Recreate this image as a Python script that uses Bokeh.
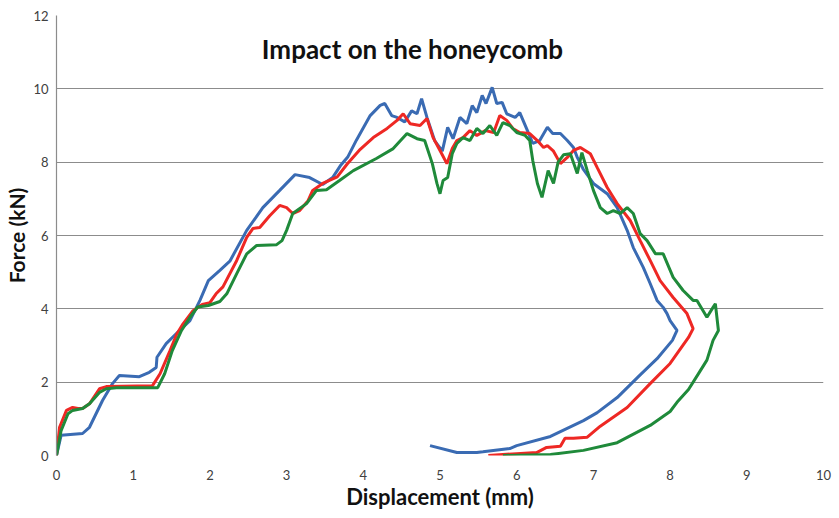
from bokeh.plotting import figure
from bokeh.models import Label, FixedTicker
from bokeh.embed import file_html
from bokeh.resources import INLINE

# ---- data ----
blue_x = [0, 0.06, 0.34, 0.43, 0.6, 0.73, 0.82, 1.08, 1.21, 1.3, 1.31, 1.43, 1.56, 1.74, 1.87, 1.98,
          2.13, 2.26, 2.48, 2.69, 2.91, 3.11, 3.3, 3.47, 3.6, 3.7, 3.8, 3.91, 4.09, 4.22, 4.28, 4.37,
          4.44, 4.54, 4.63, 4.7, 4.76, 4.83, 4.93, 5.03, 5.1, 5.17, 5.26, 5.35, 5.42, 5.48, 5.55, 5.6,
          5.68, 5.74, 5.81, 5.87, 5.98, 6.04, 6.14, 6.21, 6.3, 6.4, 6.47, 6.57, 6.66, 6.74, 6.79, 6.87,
          7.0, 7.18, 7.31, 7.44, 7.52, 7.65, 7.74, 7.83, 7.91, 7.96, 8.0, 8.09,
          8.03, 7.83, 7.61, 7.31, 7.05, 6.87, 6.44, 6.0, 5.91, 5.56, 5.48, 5.22, 4.87]
blue_y = [0, 0.55, 0.6, 0.77, 1.5, 1.96, 2.18, 2.15, 2.27, 2.4, 2.68, 3.05, 3.32, 3.68, 4.23, 4.77,
          5.05, 5.3, 6.14, 6.76, 7.23, 7.66, 7.58, 7.39, 7.58, 7.9, 8.15, 8.6, 9.27, 9.55, 9.6, 9.27,
          9.22, 9.1, 9.4, 9.32, 9.73, 9.22, 8.59, 8.3, 8.95, 8.64, 9.22, 9.05, 9.54, 9.35, 9.82, 9.6,
          10.04, 9.6, 9.63, 9.32, 9.22, 9.35, 8.86, 8.51, 8.59, 8.95, 8.78, 8.78, 8.59, 8.4, 8.13, 7.8,
          7.42, 7.14, 6.76, 6.14, 5.67, 5.13, 4.69, 4.23, 4.04, 3.87, 3.68, 3.41,
          3.14, 2.64, 2.2, 1.58, 1.17, 0.95, 0.52, 0.27, 0.19, 0.1, 0.08, 0.08, 0.27]

red_x = [0, 0.04, 0.13, 0.21, 0.28, 0.34, 0.43, 0.56, 0.65, 1.25, 1.35, 1.48, 1.57, 1.65, 1.78, 1.9,
         2.0, 2.08, 2.17, 2.35, 2.48, 2.56, 2.65, 2.78, 2.91, 3.0, 3.08, 3.17, 3.28, 3.34, 3.47, 3.66,
         3.79, 3.96, 4.13, 4.31, 4.44, 4.52, 4.61, 4.74, 4.83, 4.91, 5.0, 5.09, 5.16, 5.22, 5.3, 5.39,
         5.48, 5.59, 5.7, 5.78, 5.87, 5.95, 6.04, 6.17, 6.27, 6.35, 6.4, 6.48, 6.57, 6.66, 6.74, 6.83,
         6.96, 7.05, 7.18, 7.31, 7.48, 7.61, 7.74, 7.87, 8.04, 8.22, 8.3,
         8.24, 8.0, 7.74, 7.44, 7.09, 6.92, 6.74, 6.63, 6.57, 6.39, 6.26, 6.0, 5.63]
red_y = [0, 0.77, 1.23, 1.31, 1.28, 1.28, 1.41, 1.82, 1.88, 1.9, 2.23, 2.86, 3.32, 3.59, 3.95, 4.12,
         4.17, 4.41, 4.6, 5.32, 5.95, 6.19, 6.22, 6.54, 6.82, 6.76, 6.6, 6.68, 6.95, 7.23, 7.42, 7.6,
         7.95, 8.35, 8.67, 8.92, 9.14, 9.32, 9.05, 9.0, 9.19, 8.67, 8.32, 7.96, 8.37, 8.59, 8.67, 8.86,
         8.73, 8.86, 8.81, 9.27, 9.14, 8.92, 8.81, 8.78, 8.59, 8.4, 8.45, 8.3, 7.96, 8.13, 8.32, 8.4,
         8.23, 7.85, 7.31, 6.87, 6.41, 5.86, 5.32, 4.77, 4.31, 3.87, 3.46,
         3.22, 2.51, 1.96, 1.31, 0.8, 0.5, 0.47, 0.47, 0.25, 0.22, 0.08, 0.05, 0.0]

green_x = [0, 0.06, 0.15, 0.21, 0.34, 0.43, 0.56, 0.65, 0.78, 1.32, 1.41, 1.51, 1.63, 1.74, 1.84, 1.98,
           2.13, 2.22, 2.35, 2.48, 2.61, 2.87, 2.94, 3.0, 3.08, 3.26, 3.39, 3.52, 3.69, 3.87, 4.17, 4.39,
           4.57, 4.7, 4.8, 4.9, 4.96, 5.0, 5.04, 5.1, 5.16, 5.22, 5.3, 5.39, 5.48, 5.56, 5.65, 5.74,
           5.82, 5.91, 6.0, 6.11, 6.17, 6.21, 6.27, 6.33, 6.41, 6.48, 6.54, 6.61, 6.7, 6.79, 6.85, 6.92,
           7.0, 7.09, 7.18, 7.26, 7.35, 7.44, 7.52, 7.61, 7.7, 7.81, 7.91, 8.04, 8.17, 8.3, 8.35, 8.43,
           8.48, 8.56, 8.59, 8.63,
           8.56, 8.48, 8.36, 8.24, 8.09, 8.0, 7.74, 7.31, 6.87, 6.44, 5.82]
green_y = [0, 0.68, 1.14, 1.23, 1.28, 1.41, 1.72, 1.82, 1.85, 1.85, 2.23, 2.86, 3.41, 3.77, 4.05, 4.09,
           4.2, 4.41, 4.96, 5.5, 5.73, 5.75, 5.86, 6.14, 6.6, 6.87, 7.23, 7.25, 7.5, 7.77, 8.1, 8.37,
           8.78, 8.64, 8.59, 7.96, 7.42, 7.14, 7.5, 7.58, 8.23, 8.51, 8.67, 8.59, 8.92, 8.78, 9.0, 8.73,
           9.08, 9.0, 8.81, 8.73, 8.59, 8.04, 7.42, 7.04, 7.77, 7.42, 8.0, 8.2, 8.23, 7.69, 8.26, 7.77,
           7.23, 6.76, 6.6, 6.68, 6.6, 6.76, 6.6, 6.05, 5.86, 5.5, 5.5, 4.86, 4.5, 4.23, 4.23, 3.95,
           3.77, 4.04, 4.14, 3.41,
           3.14, 2.6, 2.2, 1.8, 1.45, 1.2, 0.82, 0.35, 0.14, 0.03, 0.0]

x_ticks = [0, 1, 2, 3, 4, 5, 6, 7, 8, 9, 10]
y_ticks = [0, 2, 4, 6, 8, 10, 12]

title_text = "Impact on the honeycomb"
x_label = "Displacement (mm)"
y_label = "Force (kN)"

FONT = "Lato"

p = figure(width=838, height=517, x_range=(0, 10), y_range=(0, 12),
           output_backend="svg", toolbar_location=None,
           min_border_left=56, min_border_right=15, min_border_top=15, min_border_bottom=62)
p.outline_line_color = None
p.background_fill_color = "white"

p.xgrid.grid_line_color = None
p.ygrid.grid_line_color = "#8c8c8c"
p.ygrid.grid_line_width = 1.2

p.xaxis.ticker = FixedTicker(ticks=x_ticks)
p.yaxis.ticker = FixedTicker(ticks=y_ticks)
for ax in (p.xaxis, p.yaxis):
    ax.major_tick_line_color = None
    ax.minor_tick_line_color = None
    ax.major_tick_out = 0
    ax.major_tick_in = 0
    ax.minor_tick_out = 0
    ax.major_label_text_font = FONT
    ax.major_label_text_font_size = "13px"
    ax.major_label_text_color = "#404040"
    ax.axis_label_text_font = FONT
    ax.axis_label_text_font_style = "bold"
    ax.axis_label_text_color = "#111111"
p.xaxis.axis_line_color = None
p.yaxis.axis_line_color = "#8c8c8c"
p.yaxis.axis_line_width = 1.2
p.xaxis.axis_label = x_label
p.yaxis.axis_label = y_label
p.xaxis.axis_label_text_font_size = "22px"
p.yaxis.axis_label_text_font_size = "21px"
p.xaxis.major_label_standoff = 14
p.yaxis.major_label_standoff = 8
p.xaxis.axis_label_standoff = 0
p.yaxis.axis_label_standoff = 1

p.line(blue_x, blue_y, line_color="#3A6BB3", line_width=3)
p.line(red_x, red_y, line_color="#EE2824", line_width=3)
p.line(green_x, green_y, line_color="#1F8A3A", line_width=3)

p.add_layout(Label(x=4.64, y=11.1, text=title_text, text_align="center", text_baseline="middle",
                   text_font=FONT, text_font_style="bold", text_font_size="26px",
                   text_color="#111111"))

open("out.html", "w").write(file_html(p, INLINE))
